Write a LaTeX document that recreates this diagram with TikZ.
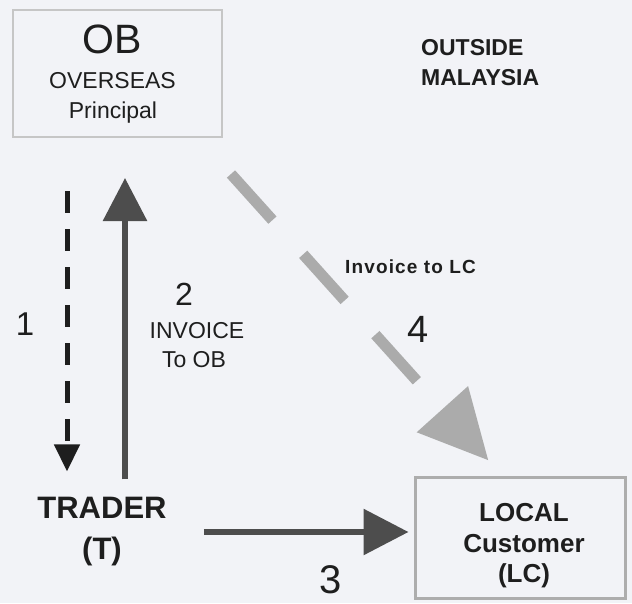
\documentclass[tikz,border=0pt]{standalone}
\usepackage{fontspec}
\setmainfont{Liberation Sans}
\newfontfamily\spacedsans[LetterSpace=6]{Liberation Sans}
\usetikzlibrary{arrows.meta}
\definecolor{bg}{HTML}{F2F3F7}
\definecolor{ink}{HTML}{1E1E1E}
\definecolor{arrdark}{HTML}{4D4D4D}
\definecolor{arrgray}{HTML}{ABABAB}
\definecolor{boxline}{HTML}{C6C6C6}
\definecolor{boxline2}{HTML}{ADADAD}
\begin{document}
\begin{tikzpicture}[x=1pt,y=-1pt,
  txt/.style={inner sep=0pt, text=ink, anchor=base},
  boxnode/.style={inner sep=0pt, minimum width=#1},
  arrone/.style={draw=ink, line width=5pt, dash pattern=on 22pt off 16pt,
    -{Triangle[length=27pt,width=25pt]}},
  arrtwo/.style={draw=arrdark, line width=6pt, -{Triangle[length=43pt,width=43pt]}},
  arrthree/.style={draw=arrdark, line width=6pt, -{Triangle[length=45pt,width=45pt]}},
  arrfour/.style={draw=arrgray, line width=11pt, dash pattern=on 62pt off 46pt,
    -{Triangle[length=69pt,width=66pt]}}
]
\useasboundingbox[fill=bg] (0,0) rectangle (632,603);

% boxes
\node[draw=boxline, line width=2pt, boxnode=209pt, minimum height=127pt] (ob) at (117.5,73.5) {};
\node[draw=boxline2, line width=3pt, boxnode=210pt, minimum height=121pt] (lc) at (520,537.5) {};

% OB text
\node[txt] (obt) at (112.5,53) {\fontsize{41}{41}\selectfont OB};
\node[txt] (obo) at (112.5,88) {\fontsize{23}{23}\selectfont OVERSEAS};
\node[txt] (obp) at (113,118) {\fontsize{23}{23}\selectfont Principal};

% outside malaysia
\node[txt, anchor=base west] (outa) at (421,55) {\fontsize{23}{23}\selectfont\bfseries OUTSIDE};
\node[txt, anchor=base west] (outb) at (421,85) {\fontsize{23}{23}\selectfont\bfseries MALAYSIA};

% trader
\node[inner sep=0pt, text=ink, align=center, font=\fontsize{31}{41}\selectfont\bfseries] (trader) at (102,532) {TRADER\\(T)};

% local customer text
\node[inner sep=0pt, text=ink, align=center, font=\fontsize{26}{30.5}\selectfont\bfseries] (lct) at (524,546) {LOCAL\\Customer\\(LC)};

% labels
\node[txt] (n1) at (25,335) {\fontsize{33}{33}\selectfont 1};
\node[txt] (n2) at (184,305) {\fontsize{32}{32}\selectfont 2};
\node[txt] (inv) at (197,338) {\fontsize{23}{23}\selectfont INVOICE};
\node[txt] (toob) at (194,367) {\fontsize{23}{23}\selectfont To OB};
\node[txt] (n3) at (331,593) {\fontsize{40}{40}\selectfont 3};
\node[txt] (n4) at (418,342) {\fontsize{38}{38}\selectfont 4};
\node[txt, anchor=base west] (invlc) at (345,273) {\fontsize{19}{19}\selectfont\spacedsans\bfseries Invoice to LC};

% connectors
\draw[arrone, shorten <=53pt, shorten >=26pt] ([xshift=-50.5pt]ob.south) -- ([xshift=-35pt]trader.north);
\draw[arrtwo, shorten <=18pt, shorten >=40pt] ([xshift=23pt]trader.north) -- ([xshift=7.5pt]ob.south);
\draw[arrthree, shorten <=37pt, shorten >=5pt] (trader.east) -- (trader.east -| lc.west);
\draw[arrfour] ([xshift=8pt,yshift=-36pt]ob.south east) -- ([xshift=75pt,yshift=15pt]lc.north west);
\end{tikzpicture}
\end{document}
